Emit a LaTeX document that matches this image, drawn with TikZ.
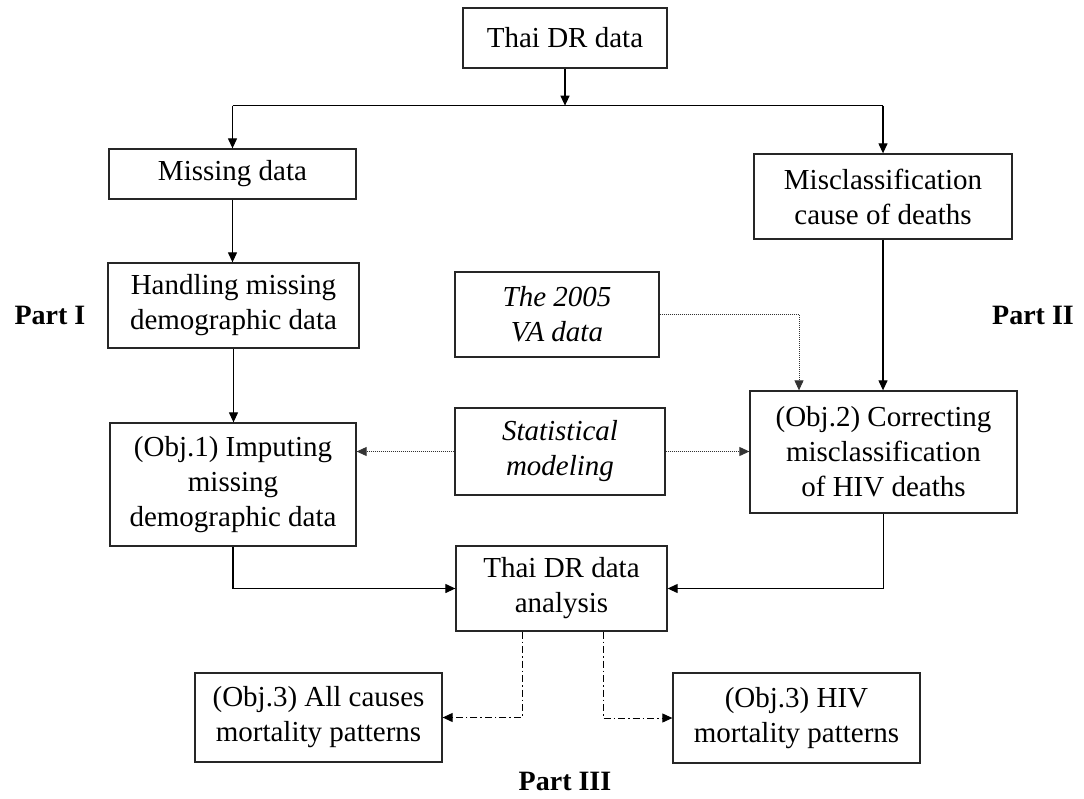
\documentclass[tikz,border=0pt]{standalone}
\usepackage{fontspec}
\setmainfont{Liberation Serif}
\usetikzlibrary{arrows.meta}
\begin{document}
\begin{tikzpicture}[x=1pt,y=-1pt,
  box/.style={draw=black!85, line width=1.3pt, rectangle, align=center, inner sep=0pt,
              font=\fontsize{29}{35}\selectfont},
  flow/.style={line width=1.2pt, -{Triangle[length=10pt,width=9pt]}},
  plain/.style={line width=1.2pt},
  dotflow/.style={line width=0.9pt, black!80, dash pattern=on 1pt off 1pt,
                  -{Triangle[length=10pt,width=9pt]}},
  ddflow/.style={line width=1pt, dash pattern=on 7pt off 3pt on 1.5pt off 3pt,
                 -{Triangle[length=10pt,width=9pt]}},
  partlabel/.style={font=\bfseries\fontsize{28}{34}\selectfont}
]
\useasboundingbox (0,0) rectangle (1084,798);
\fill[white] (0,0) rectangle (1084,798);

% boxes
\node[box, minimum width=204pt, minimum height=60pt]  (top)   at (565,38)    {Thai DR data};
\node[box, minimum width=247pt, minimum height=50pt]  (miss)  at (232.5,174) {Missing data};
\node[box, minimum width=251pt, minimum height=85pt]  (handl) at (233.5,305.5) {Handling missing\\demographic data};
\node[box, minimum width=246pt, minimum height=123pt] (obj1)  at (233,484.5) {(Obj.1) Imputing\\missing\\demographic data};
\node[box, minimum width=258pt, minimum height=85pt]  (miscl) at (883,196.5) {Misclassification\\cause of deaths};
\node[box, minimum width=204pt, minimum height=85pt]  (va)    at (557,314.5) {\itshape The 2005\\\itshape VA data};
\node[box, minimum width=210pt, minimum height=87pt]  (stat)  at (560,451.5) {\itshape Statistical\\\itshape modeling};
\node[box, minimum width=267pt, minimum height=122pt] (obj2)  at (883.5,452) {(Obj.2) Correcting\\misclassification\\of HIV deaths};
\node[box, minimum width=211pt, minimum height=85pt]  (anal)  at (561.5,588.5) {Thai DR data\\analysis};
\node[box, minimum width=247pt, minimum height=89pt]  (obj3a) at (318.5,717.5) {(Obj.3) All causes\\mortality patterns};
\node[box, minimum width=247pt, minimum height=90pt]  (obj3b) at (796.5,718) {(Obj.3) HIV\\mortality patterns};

% part labels
\node[partlabel] (p1) at (50,315)  {Part I};
\node[partlabel] (p2) at (1033,315) {Part II};
\node[partlabel] (p3) at (565,781) {Part III};

% split from the source data
\draw[flow] (top.south) -- ++(0,37) coordinate (split);
\draw[plain] (miss.north |- split) -- (miscl.north |- split);
\draw[flow] (miss.north |- split) -- (miss.north);
\draw[flow] (miscl.north |- split) -- (miscl.north);

% Part I chain
\draw[flow] (miss.south) -- (miss.south |- handl.north);
\draw[flow] (handl.south) -- (handl.south |- obj1.north);

% Part II chain
\draw[flow] (miscl.south) -- (miscl.south |- obj2.north);
\draw[dotflow] (va.east) -| ([xshift=-84.5pt]obj2.north);
\draw[dotflow] (stat.west) -- (stat.west -| obj1.east);
\draw[dotflow] (stat.east) -- (stat.east -| obj2.west);

% into the analysis
\draw[flow] (obj1.south) |- (anal.west);
\draw[flow] (obj2.south) |- (anal.east);

% Part III
\draw[ddflow] ([xshift=-39.5pt]anal.south) |- (obj3a.east);
\draw[ddflow] ([xshift=41.5pt]anal.south) |- (obj3b.west);
\end{tikzpicture}
\end{document}
